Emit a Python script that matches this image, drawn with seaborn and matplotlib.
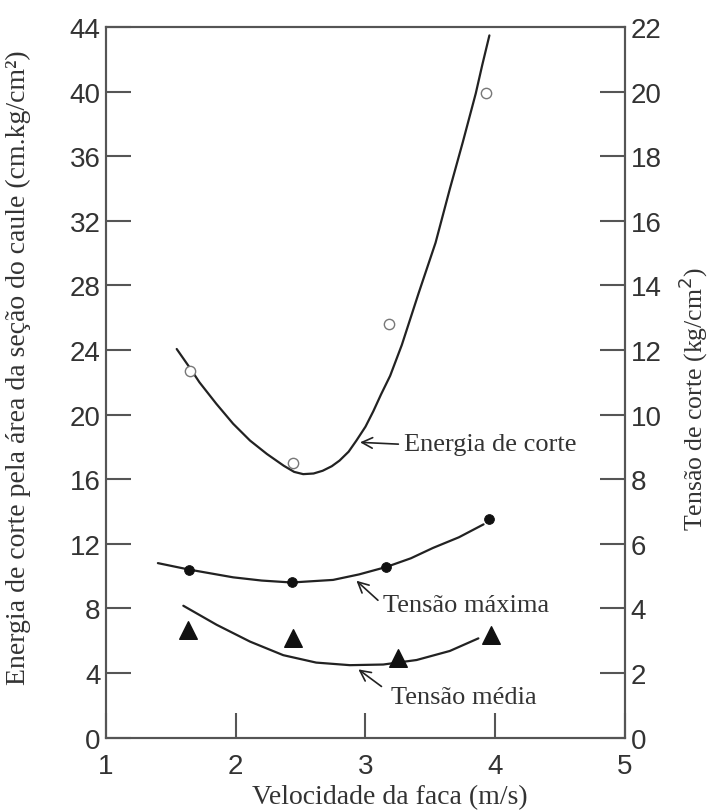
import matplotlib
matplotlib.use("Agg")
import matplotlib.pyplot as plt
import seaborn as sns

# pontos medidos
vel_energia = [1.65, 2.44, 3.18, 3.93]
energia = [22.7, 17.0, 25.6, 39.9]

vel_tmax = [1.64, 2.43, 3.16, 3.95]
tensao_max = [5.20, 4.80, 5.28, 6.76]

vel_tmed = [1.63, 2.44, 3.25, 3.97]
tensao_med = [3.33, 3.07, 2.45, 3.17]

# curvas ajustadas
curva_energia_x = [1.545, 1.65, 1.72, 1.85, 1.98, 2.11, 2.24, 2.37, 2.45, 2.52, 2.60,
                   2.67, 2.74, 2.80, 2.87, 2.93, 3.00, 3.06, 3.12, 3.19, 3.28, 3.41,
                   3.54, 3.65, 3.75, 3.85, 3.90, 3.955]
curva_energia_y = [24.06, 22.85, 22.0, 20.67, 19.43, 18.39, 17.56, 16.83, 16.45, 16.31, 16.35,
                   16.52, 16.80, 17.15, 17.70, 18.39, 19.25, 20.2, 21.25, 22.4, 24.31, 27.53,
                   30.64, 33.97, 36.87, 39.89, 41.65, 43.48]

curva_tmax_x = [1.40, 1.64, 1.98, 2.20, 2.43, 2.75, 2.95, 3.16, 3.35, 3.52, 3.72, 3.91]
curva_tmax_y = [5.40, 5.20, 4.96, 4.86, 4.80, 4.88, 5.05, 5.28, 5.55, 5.87, 6.20, 6.60]

curva_tmed_x = [1.596, 1.853, 2.11, 2.366, 2.62, 2.88, 3.137, 3.394, 3.65, 3.87]
curva_tmed_y = [4.08, 3.49, 2.97, 2.55, 2.32, 2.24, 2.26, 2.40, 2.68, 3.07]

x_ticks = [1, 2, 3, 4, 5]
y_ticks_esq = list(range(0, 45, 4))
y_ticks_dir = list(range(0, 23, 2))

sns.set_style("ticks")
plt.rcParams['font.family'] = ['Liberation Sans', 'DejaVu Sans']

cor_texto = "#333333"
cor_eixo = "#555555"
cor_linha = "#222222"
serif = ['Liberation Serif', 'DejaVu Serif']

fig = plt.figure(figsize=(7.09, 8.12), dpi=100)
ax = fig.add_axes([0.1495, 0.0905, 0.732, 0.875])
ax2 = ax.twinx()

# Energia de corte (eixo esquerdo)
sns.lineplot(x=curva_energia_x, y=curva_energia_y, ax=ax, color=cor_linha, lw=1.6,
             sort=False, estimator=None)
sns.scatterplot(x=vel_energia, y=energia, ax=ax, marker="o", s=55,
                facecolor="white", edgecolor="#777777", linewidth=1.0, zorder=5)

# Tensões (eixo direito)
sns.lineplot(x=curva_tmax_x, y=curva_tmax_y, ax=ax2, color=cor_linha, lw=1.6,
             sort=False, estimator=None)
sns.scatterplot(x=vel_tmax, y=tensao_max, ax=ax2, marker="o", s=50,
                color="#111111", edgecolor="#111111", zorder=5)
sns.lineplot(x=curva_tmed_x, y=curva_tmed_y, ax=ax2, color=cor_linha, lw=1.6,
             sort=False, estimator=None)
sns.scatterplot(x=vel_tmed, y=tensao_med, ax=ax2, marker="^", s=160,
                color="#111111", edgecolor="#111111", zorder=5)

ax.set_xlim(1, 5)
ax.set_ylim(0, 44)
ax2.set_ylim(0, 22)
ax.set_xticks(x_ticks)
ax.set_yticks(y_ticks_esq)
ax2.set_yticks(y_ticks_dir)

for a in (ax, ax2):
    for sp in a.spines.values():
        sp.set_color(cor_eixo)
        sp.set_linewidth(1.5)
    a.tick_params(direction="in", length=18, width=1.5, color=cor_eixo,
                  labelsize=20, labelcolor=cor_texto)
ax.tick_params(axis="y", pad=4, right=False)
ax.tick_params(axis="x", pad=11, top=False)
ax2.tick_params(axis="y", pad=4)

ax.set_xlabel("Velocidade da faca (m/s)", family=serif, fontsize=20, color=cor_texto)
ax.xaxis.set_label_coords(0.547, -0.066)
ax.set_ylabel("Energia de corte pela área da seção do caule (cm.kg/cm²)", family=serif,
              fontsize=20, color=cor_texto)
ax.yaxis.set_label_coords(-0.1445, 0.522)
ax2.set_ylabel("Tensão de corte (kg/cm$^2$)", family=serif, fontsize=18.5, color=cor_texto,
               rotation=90)
ax2.yaxis.set_label_coords(1.100, 0.478)

seta = dict(arrowstyle="->", color=cor_linha, lw=1.2, shrinkA=2, shrinkB=0,
            relpos=(0, 0.5))
ax.annotate("Energia de corte", xy=(2.958, 18.28), xytext=(3.30, 18.15), ha="left",
            va="center", family=serif, fontsize=19, color=cor_texto, arrowprops=seta)
ax.annotate("Tensão máxima", xy=(2.93, 9.71), xytext=(3.137, 8.2), ha="left",
            va="center", family=serif, fontsize=19, color=cor_texto, arrowprops=seta)
seta_med = dict(seta, relpos=(0, 0.65), shrinkA=6)
ax.annotate("Tensão média", xy=(2.945, 4.22), xytext=(3.20, 2.5), ha="left",
            va="center", family=serif, fontsize=19, color=cor_texto, arrowprops=seta_med)

fig.savefig("out.png", dpi=100)
